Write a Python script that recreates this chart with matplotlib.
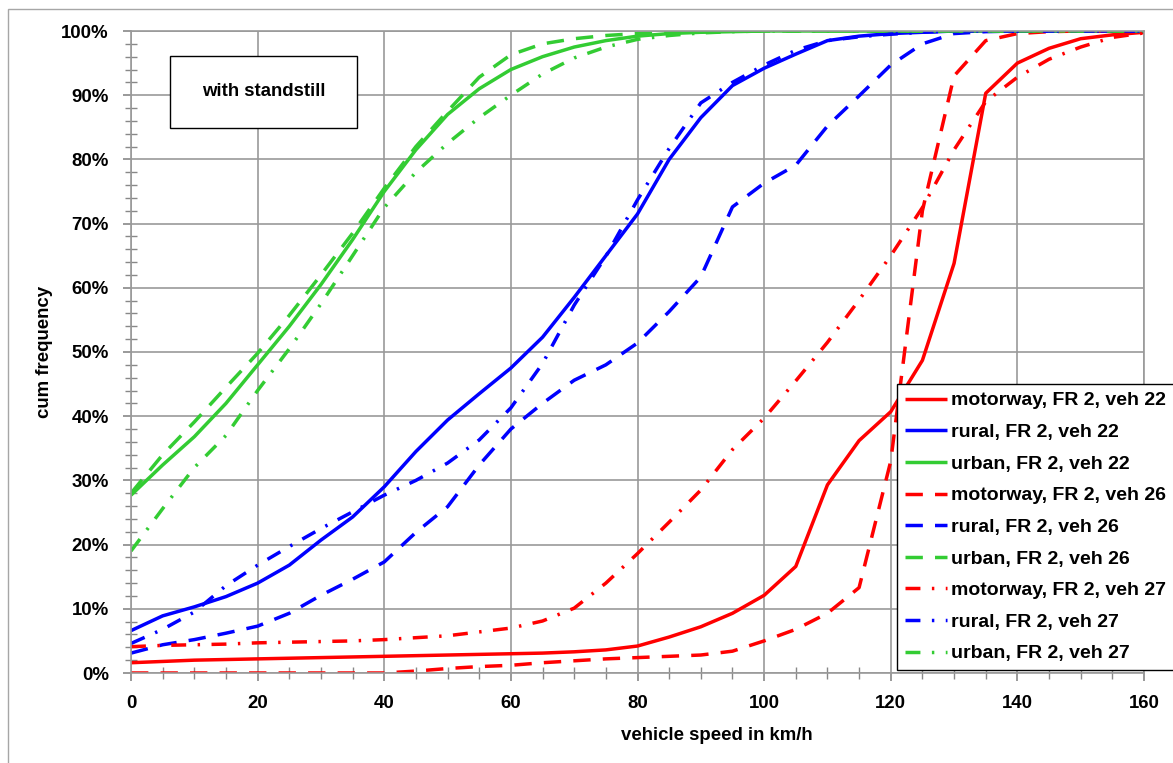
import matplotlib
matplotlib.use('Agg')
import matplotlib.pyplot as plt
from matplotlib.patches import Rectangle
from matplotlib.ticker import MultipleLocator, PercentFormatter

plt.rcParams['font.family'] = ['Liberation Sans', 'DejaVu Sans']
plt.rcParams['font.weight'] = 'bold'
FS = 13.4

# vehicle speed in km/h
speed = list(range(0, 161, 5))

# cumulative frequency in %
motorway_22 = [1.6, 1.8, 2.0, 2.1, 2.2, 2.3, 2.4, 2.5, 2.6, 2.7, 2.8, 2.9, 3.0, 3.1, 3.3, 3.6,
               4.2, 5.6, 7.2, 9.3, 12.1, 16.6, 29.3, 36.2, 40.7, 48.7, 63.8, 90.3, 95.0, 97.3,
               98.8, 99.4, 99.8]
rural_22 = [6.6, 8.9, 10.3, 11.9, 14.0, 16.8, 20.7, 24.3, 29.0, 34.5, 39.4, 43.5, 47.5, 52.3,
            58.5, 65.0, 71.5, 80.0, 86.5, 91.5, 94.2, 96.4, 98.5, 99.2, 99.6, 99.8, 100, 100,
            100, 100, 100, 100, 100]
urban_22 = [27.7, 32.4, 36.8, 42.0, 48.0, 54.0, 60.5, 67.5, 75.0, 81.5, 87.0, 91.0, 94.0, 96.0,
            97.5, 98.5, 99.2, 99.6, 99.8, 99.9, 100, 100, 100, 100, 100, 100, 100, 100, 100,
            100, 100, 100, 100]
motorway_26 = [0, 0, 0, 0, 0, 0, 0, 0, 0, 0.3, 0.7, 1.0, 1.2, 1.6, 1.9, 2.2, 2.4, 2.6, 2.8,
               3.4, 5.0, 6.8, 9.3, 13.3, 33.0, 72.0, 93.0, 98.5, 99.6, 99.9, 100, 100, 100]
rural_26 = [3.1, 4.4, 5.2, 6.2, 7.3, 9.3, 12.1, 14.6, 17.3, 21.9, 25.9, 32.4, 38.0, 42.0, 45.6,
            48.0, 51.4, 56.3, 61.7, 72.6, 76.3, 79.1, 85.2, 89.9, 94.7, 98.0, 99.6, 99.9, 100,
            100, 100, 100, 100]
urban_26 = [28.0, 34.0, 39.1, 44.5, 49.8, 55.7, 62.0, 68.5, 75.5, 82.0, 87.5, 92.8, 96.3, 98.0,
            98.8, 99.3, 99.6, 99.8, 99.9, 100, 100, 100, 100, 100, 100, 100, 100, 100, 100,
            100, 100, 100, 100]
motorway_27 = [4.1, 4.3, 4.4, 4.5, 4.7, 4.8, 4.9, 5.0, 5.2, 5.5, 5.8, 6.4, 7.0, 8.1, 10.1, 14.0,
               18.6, 23.5, 28.5, 34.8, 39.7, 45.5, 51.5, 58.1, 65.0, 72.5, 81.5, 89.0, 92.8,
               95.6, 97.5, 99.0, 99.7]
rural_27 = [4.6, 6.8, 9.5, 13.6, 16.8, 19.7, 22.5, 25.1, 27.7, 30.0, 32.7, 36.3, 41.3, 48.2,
            57.3, 64.9, 73.7, 81.7, 88.8, 92.0, 94.7, 97.0, 98.5, 99.1, 99.5, 99.8, 100, 100,
            100, 100, 100, 100, 100]
urban_27 = [19.0, 25.6, 32.0, 37.0, 44.0, 50.5, 57.5, 65.0, 72.5, 78.0, 82.5, 86.5, 90.0, 93.3,
            95.8, 97.5, 98.7, 99.3, 99.7, 99.9, 100, 100, 100, 100, 100, 100, 100, 100, 100,
            100, 100, 100, 100]

RED, BLUE, GREEN = '#ff0000', '#0000ff', '#33cc33'
SOLID, DASH, DASHDOT = (None, (5, 3.5), (4.3, 3.3, 0.7, 3.3))

series = [
    ('motorway, FR 2, veh 22', motorway_22, RED, SOLID),
    ('rural, FR 2, veh 22', rural_22, BLUE, SOLID),
    ('urban, FR 2, veh 22', urban_22, GREEN, SOLID),
    ('motorway, FR 2, veh 26', motorway_26, RED, DASH),
    ('rural, FR 2, veh 26', rural_26, BLUE, DASH),
    ('urban, FR 2, veh 26', urban_26, GREEN, DASH),
    ('motorway, FR 2, veh 27', motorway_27, RED, DASHDOT),
    ('rural, FR 2, veh 27', rural_27, BLUE, DASHDOT),
    ('urban, FR 2, veh 27', urban_27, GREEN, DASHDOT),
]

fig = plt.figure(figsize=(11.73, 7.63), dpi=100)
ax = fig.add_axes([131 / 1173, 1 - 673 / 763, 1013 / 1173, 642 / 763])

# outer chart border
fig.patches.append(Rectangle((8 / 1173, -0.1), 1.2, 1.1 - 9 / 763, transform=fig.transFigure,
                             fill=False, edgecolor='#a6a6a6', linewidth=1.0))

for label, vals, col, dash in series:
    line, = ax.plot(speed, vals, color=col, lw=2.5, label=label, solid_capstyle='butt')
    if dash is not None:
        line.set_dashes(dash)
        line.set_dash_capstyle('butt')

ax.set_xlim(0, 160)
ax.set_ylim(0, 100)
ax.xaxis.set_major_locator(MultipleLocator(20))
ax.xaxis.set_minor_locator(MultipleLocator(5))
ax.yaxis.set_major_locator(MultipleLocator(10))
ax.yaxis.set_minor_locator(MultipleLocator(2))
ax.yaxis.set_major_formatter(PercentFormatter(decimals=0))

ax.grid(True, which='major', color='#999999', lw=1.2)
ax.set_axisbelow(True)
for s in ax.spines.values():
    s.set_color('#999999')
    s.set_linewidth(1.2)
ax.tick_params(which='major', direction='out', length=6, width=1.2, color='#888888',
               labelsize=FS, pad=10)
ax.tick_params(which='minor', direction='inout', length=8, width=1.0, color='#888888')

ax.set_xlabel('vehicle speed in km/h', fontsize=FS, fontweight='bold', labelpad=11)
ax.xaxis.label.set_x((717 - 131) / 1013)
ax.set_ylabel('cum frequency', fontsize=FS, fontweight='bold', labelpad=6)

# "with standstill" box
ax.add_patch(Rectangle((0.0385, 0.8485), 0.1843, 0.113, transform=ax.transAxes,
                       facecolor='white', edgecolor='black', lw=1.0, zorder=5))
ax.text(0.0385 + 0.1843 / 2, 0.8485 + 0.113 / 2, 'with standstill', transform=ax.transAxes,
        ha='center', va='center', fontsize=FS, fontweight='bold', zorder=6)

leg = ax.legend(loc='upper left', bbox_to_anchor=(0.756, 0.45), fontsize=14,
                frameon=True, fancybox=False, borderaxespad=0, handlelength=2.2,
                handletextpad=0.2, labelspacing=0.72, borderpad=0.4)
leg.get_frame().set_edgecolor('black')
leg.get_frame().set_linewidth(1.0)
leg.get_frame().set_alpha(1)

fig.savefig('out.png', dpi=100)
